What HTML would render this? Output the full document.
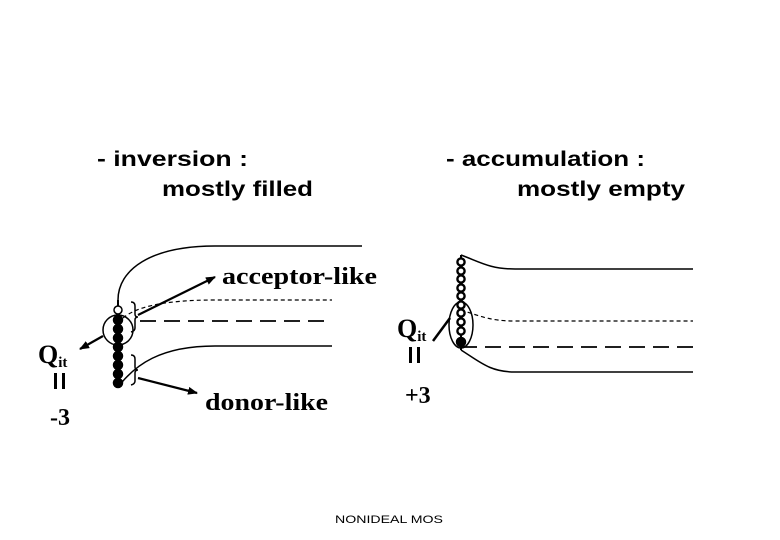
<!DOCTYPE html>
<html><head><meta charset="utf-8"><style>html,body{margin:0;padding:0;background:#fff}svg{display:block}</style></head><body>
<svg width="780" height="540" viewBox="0 0 780 540" xmlns="http://www.w3.org/2000/svg">
<defs><marker id="ah" markerWidth="10" markerHeight="8" refX="9" refY="4" orient="auto" markerUnits="userSpaceOnUse"><path d="M0,0 L10,4 L0,8 z" fill="#000"/></marker></defs>
<g font-family="Liberation Sans, Arial, sans-serif" font-size="21" font-weight="bold" fill="#000">
<text x="97" y="166" textLength="151" lengthAdjust="spacingAndGlyphs">- inversion :</text>
<text x="162" y="196" textLength="151" lengthAdjust="spacingAndGlyphs">mostly filled</text>
<text x="446" y="166" textLength="199" lengthAdjust="spacingAndGlyphs">- accumulation :</text>
<text x="517" y="196" textLength="168" lengthAdjust="spacingAndGlyphs">mostly empty</text>
<text x="335" y="523" font-size="11" font-weight="normal" textLength="108" lengthAdjust="spacingAndGlyphs">NONIDEAL MOS</text>
</g>
<g font-family="Liberation Serif, Times, serif" font-size="24" font-weight="bold" fill="#000">
<text x="222" y="284" textLength="155" lengthAdjust="spacingAndGlyphs">acceptor-like</text>
<text x="205" y="410" textLength="123" lengthAdjust="spacingAndGlyphs">donor-like</text>
<text x="38" y="363" font-size="26">Q<tspan font-size="15" dy="4">it</tspan></text>
<rect x="54" y="373" width="3" height="16"/><rect x="62" y="373" width="3" height="16"/>
<text x="50" y="425">-3</text>
<text x="397" y="337" font-size="26">Q<tspan font-size="15" dy="4">it</tspan></text>
<rect x="409" y="347" width="3" height="16"/><rect x="417" y="347" width="3" height="16"/>
<text x="405" y="403">+3</text>
</g>
<g fill="none" stroke="#000" stroke-width="1.5">
<path d="M118,300 C118,270 150,246 215,246 L362,246"/>
<path d="M123,318 C135,308 160,300 215,300 L332,300" stroke-dasharray="4,3" stroke-width="1.2"/>
<line x1="140" y1="321" x2="332" y2="321" stroke-dasharray="16,8" stroke-width="1.8"/>
<path d="M118,387 C135,365 160,346 215,346 L332,346"/>
<circle cx="118" cy="330" r="15"/>
<path d="M131,302 q4,0 4,4 v8 q0,3 3,3 q-3,0 -3,3 v8 q0,3 -4,4"/>
<path d="M131,355 q4,0 4,4 v8 q0,3 3,3 q-3,0 -3,3 v8 q0,3 -4,4"/>
<line x1="138" y1="315" x2="215" y2="277" stroke-width="2.2" marker-end="url(#ah)"/>
<line x1="138" y1="378" x2="197" y2="393" stroke-width="2.2" marker-end="url(#ah)"/>
<line x1="103" y1="336" x2="80" y2="349" stroke-width="2.2" marker-end="url(#ah)"/>
<path d="M461,255 C480,262 490,269 515,269 L693,269"/>
<path d="M461,310 C480,316 490,321 515,321 L693,321" stroke-dasharray="4,3" stroke-width="1.2"/>
<line x1="461" y1="347" x2="693" y2="347" stroke-dasharray="16,8" stroke-width="1.8"/>
<path d="M461,350 C480,362 490,372 515,372 L693,372"/>
<ellipse cx="461" cy="325" rx="12" ry="23"/>
<line x1="433" y1="341" x2="450" y2="318" stroke-width="2.5"/>
</g>
<g stroke="#000" stroke-width="1.5">
<line x1="118" y1="300" x2="118" y2="388" stroke-width="2"/>
<circle cx="118" cy="310" r="4" fill="#fff"/>
<circle cx="118" cy="320" r="4.5" fill="#000"/>
<circle cx="118" cy="329" r="4.5" fill="#000"/>
<circle cx="118" cy="338" r="4.5" fill="#000"/>
<circle cx="118" cy="347" r="4.5" fill="#000"/>
<circle cx="118" cy="356" r="4.5" fill="#000"/>
<circle cx="118" cy="365" r="4.5" fill="#000"/>
<circle cx="118" cy="374" r="4.5" fill="#000"/>
<circle cx="118" cy="383" r="4.5" fill="#000"/>
<line x1="461" y1="255" x2="461" y2="350" stroke-width="2"/>
<g stroke-width="2.4" fill="#fff">
<circle cx="461" cy="262" r="3.6"/>
<circle cx="461" cy="271" r="3.6"/>
<circle cx="461" cy="279" r="3.6"/>
<circle cx="461" cy="288" r="3.6"/>
<circle cx="461" cy="296" r="3.6"/>
<circle cx="461" cy="305" r="3.6"/>
<circle cx="461" cy="313" r="3.6"/>
<circle cx="461" cy="322" r="3.6"/>
<circle cx="461" cy="331" r="3.6"/>
</g>
<circle cx="461" cy="342" r="4.5" fill="#000"/>
</g>
</svg>
</body></html>
